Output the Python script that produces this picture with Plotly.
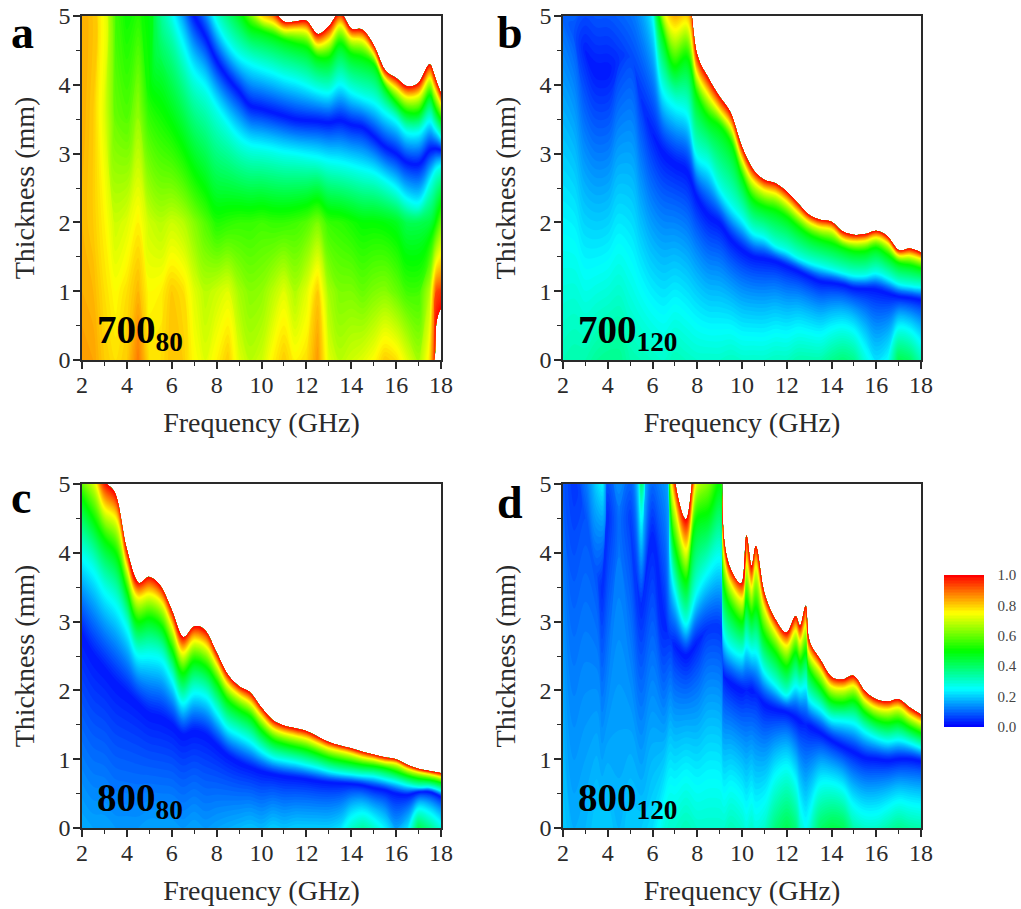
import plotly.graph_objects as go

W, H = 1021, 909
SERIF = "Liberation Serif"
INK = "#2a2a2a"
RAINBOW = [[0, "#0000ff"], [0.25, "#00ffff"], [0.5, "#00ff00"], [0.75, "#ffff00"], [1, "#ff0000"]]
X_TICKS = [2, 4, 6, 8, 10, 12, 14, 16, 18]
Y_TICKS = [0, 1, 2, 3, 4, 5]
BAR_TICKS = [0.0, 0.2, 0.4, 0.6, 0.8, 1.0]
BAR_LABELS = ["0.0", "0.2", "0.4", "0.6", "0.8", "1.0"]

def px(x):
    return x / W

def py(y):
    return 1 - y / H

# Each table row is an iso-line: thickness (mm) per frequency column.
F_STD = [2, 2.5, 3, 3.5, 4, 4.5, 5, 5.5, 6, 6.5, 7, 7.5, 8, 8.5, 9, 9.5, 10, 10.5, 11, 11.5, 12, 12.5, 13, 13.5, 14, 14.5, 15, 15.5, 16, 16.5, 17, 17.5, 18]

# panel a (700_80)
a_f = F_STD[:-1] + [17.7, 17.8, 18]
a_t0 = [0]*32 + [0, .55, .75]
a_z0 = [.85,.84,.8,.78,.8,.88,.78,.78,.81,.8,.75,.72,.76,.8,.72,.68,.7,.76,.8,.76,.78,.85,.72,.68,.7,.72,.75,.8,.78,.72,.66,.78,.95,1,1]
a_z1 = [.83,.82,.78,.75,.78,.82,.75,.76,.8,.78,.72,.68,.7,.72,.66,.63,.64,.68,.72,.67,.72,.8,.66,.62,.62,.6,.62,.63,.6,.56,.56,.68,.85,.93,.95]
a_z2 = [.82,.8,.76,.7,.72,.76,.7,.68,.7,.68,.63,.58,.53,.54,.55,.55,.56,.55,.55,.56,.58,.62,.55,.54,.52,.5,.5,.49,.47,.42,.42,.44,.48,.52,.6]
a_low_t = [3.5,3.5,3.5,3.5,3.5,3.5,3.8,4.6,5.0,4.5,4.1,3.9,3.62,3.38,3.18,3.08,3.05,3.02,2.98,2.96,2.93,2.9,2.85,2.82,2.78,2.73,2.68,2.58,2.46,2.3,2.25,2.55,2.7,2.75,2.8]
a_low_z = [.83,.8,.72,.6,.58,.65,.52,.4] + [.27]*27
a_rid_t = [5.2,5.2,5.2,5.2,5.2,5.2,5.3,5.6,5.7,5.35,5.0,4.7,4.35,4.1,3.9,3.7,3.65,3.6,3.55,3.5,3.48,3.47,3.45,3.48,3.42,3.38,3.25,3.1,3.0,2.87,2.85,3.05,3.07,3.07,3.05]
a_rid_z = [.83,.8,.72,.55,.5,.52,.48,.3,.1,.06] + [.02]*25
a_cyan = [6.2]*9 + [6,5.8,5.4,4.95,4.65,4.45,4.35,4.28,4.22,4.15,4.1,4.03,3.95,3.92,4.05,3.93,3.85,3.78,3.63,3.5,3.33,3.33,3.5,3.4,3.35,3.25]
a_green = [7]*9 + [6.7,6.3,6,5.7,5.4,5.1,4.85,4.78,4.72,4.65,4.6,4.55,4.4,4.4,4.6,4.45,4.4,4.3,3.97,3.75,3.6,3.6,3.85,3.7,3.62,3.5]
a_yellow = [7.6]*9 + [7.2,6.9,6.6,6.3,6,5.6,5.2,4.97,4.9,4.8,4.8,4.78,4.58,4.65,4.87,4.68,4.65,4.45,4.1,3.95,3.82,3.85,4.1,3.95,3.87,3.72]
a_edge = [8]*9 + [7.7,7.3,7,6.7,6.4,6,5.6,5.3,5.1,4.92,4.92,4.93,4.74,4.85,5.05,4.82,4.8,4.58,4.22,4.1,3.98,4.03,4.3,4.15,4.05,3.88]

# panel b (700_120)
b_f = F_STD
b_z0 = [.32,.33,.33,.35,.36,.36,.33,.32,.31,.3,.32,.31,.3,.3,.3,.31,.3,.3,.3,.31,.31,.33,.33,.33,.36,.38,.36,.28,.22,.25,.42,.4,.32]
b_rid_t = [5,4.8,4.5,4.2,4.2,4.4,4.4,3.8,3.3,3.0,2.85,2.75,2.35,2.1,1.98,1.75,1.6,1.5,1.47,1.43,1.36,1.29,1.21,1.14,1.12,1.09,1.04,1.03,1.02,.97,.92,.9,.87]
b_rid_z = [.1,.08,.03,.02,.02,.05,.07,.05,.03] + [.02]*24
b_cyan = [7,7,7,7,7,7,7,6.2,5.1,3.95,3.74,3.65,3.0,2.86,2.52,2.28,2.08,1.87,1.8,1.67,1.6,1.5,1.43,1.38,1.33,1.28,1.24,1.24,1.28,1.21,1.12,1.09,1.07]
b_green = [7.5]*8 + [5.6,4.7,4.27,4.4,3.83,3.53,3.4,3.16,2.67,2.33,2.23,2.18,2.08,1.94,1.82,1.75,1.7,1.63,1.58,1.58,1.63,1.53,1.41,1.38,1.33]
b_yellow = [8]*8 + [6.2,5.1,4.8,4.9,4.15,3.85,3.62,3.4,2.92,2.6,2.47,2.42,2.3,2.14,2.0,1.93,1.9,1.76,1.72,1.73,1.78,1.7,1.52,1.52,1.47]
b_edge = [9]*8 + [8,6,5.5,5.5,4.44,4.1,3.83,3.59,3.1,2.77,2.62,2.57,2.45,2.28,2.11,2.04,2.01,1.87,1.82,1.83,1.88,1.8,1.6,1.62,1.56]

# panel c (800_80)
c_f = F_STD
c_z0 = [.17,.16,.16,.15,.15,.15,.16,.16,.16,.15,.16,.15,.16,.17,.18,.19,.18,.2,.19,.2,.2,.2,.2,.22,.3,.34,.3,.24,.16,.22,.42,.36,.28]
c_rid_t = [2.8,2.5,2.3,2.1,1.95,1.8,1.65,1.6,1.5,1.35,1.4,1.35,1.2,1.05,.95,.88,.82,.78,.75,.73,.71,.68,.66,.65,.64,.62,.58,.55,.5,.48,.52,.52,.45]
c_rid_z = [.02]*33
c_cyan = [4.0,3.8,3.5,3.3,2.95,2.55,2.55,2.5,2.2,1.85,2.0,1.95,1.72,1.48,1.38,1.28,1.14,1.04,1.0,.97,.93,.89,.84,.81,.79,.77,.76,.72,.68,.63,.6,.6,.55]
c_green = [4.8,4.5,4.2,4.0,3.45,3.0,3.05,2.95,2.6,2.25,2.42,2.35,2.12,1.85,1.72,1.62,1.42,1.28,1.22,1.18,1.14,1.08,1.02,.98,.95,.92,.9,.87,.82,.76,.72,.7,.66]
c_yellow = [5.3,5.1,4.65,4.5,3.8,3.35,3.4,3.3,2.95,2.55,2.72,2.65,2.38,2.08,1.93,1.82,1.62,1.45,1.38,1.34,1.3,1.23,1.16,1.12,1.08,1.03,1.0,.96,.94,.86,.81,.78,.74]
c_edge = [5.7,5.5,5.05,4.85,4.05,3.57,3.65,3.52,3.17,2.78,2.93,2.87,2.55,2.23,2.06,1.97,1.75,1.57,1.49,1.45,1.41,1.33,1.25,1.2,1.16,1.11,1.07,1.03,1.0,.92,.86,.83,.8]

# panel d (800_120)
d_f = [2,2.5,3,3.5,3.75,4,4.5,5,5.5,6,6.5,6.8,7,7.5,8,8.5,9,9.2,9.5,10,10.2,10.43,10.62,11,11.5,12,12.4,12.6,12.85,13,13.5,14,14.5,15,15.5,16,16.5,17,17.5,18]
d_z0 = [.2,.17,.18,.2,.2,.2,.18,.2,.2,.22,.28,.3,.3,.32,.3,.3,.3,.3,.32,.3,.28,.3,.28,.3,.38,.42,.38,.3,.26,.28,.4,.43,.42,.33,.3,.3,.33,.36,.34,.33]
d_rid_t = [5.2,5,4.5,3.7,3.5,4.5,4.5,4.5,3.2,4.2,3.0,2.75,2.65,2.5,2.7,2.9,2.9,2.2,2.1,2.0,2.0,2.0,1.95,1.8,1.72,1.68,1.6,1.55,1.5,1.48,1.38,1.27,1.18,1.1,1.02,1.0,.98,1.0,1.0,.97]
d_rid_z = [.09,.05,.08,.08,.04,.04,.11,.06,.04,.03,.03,.05,.03,.02,.03,.05,.05,.03,.02,.02,.03,.02,.03,.02,.02,.02,.02,.02,.03,.02,.02,.02,.02,.02,.02,.02,.02,.02,.02,.02]
d_cyan = [7,7,7,5.5,5.2,7,7,7,4.6,6.5,7,4.0,3.5,3.0,3.5,3.8,4.0,2.85,2.65,2.55,2.7,2.6,2.6,2.3,2.1,1.95,2.1,2.05,2.1,1.9,1.75,1.6,1.58,1.55,1.42,1.33,1.28,1.3,1.25,1.18]
d_green = [8,8,8,6,6,8,8,8,5.4,7,7.5,4.7,4.1,3.6,4.5,4.6,5.0,3.5,3.2,3.0,3.3,3.1,3.2,2.8,2.55,2.35,2.55,2.42,2.55,2.3,2.05,1.85,1.82,1.85,1.68,1.57,1.53,1.55,1.46,1.38]
d_yellow = [8.5,8.5,8.5,7,7,8.5,8.5,8.5,6,7.5,8,5.2,4.7,4.05,5.1,5.4,6,3.95,3.55,3.33,3.85,3.5,3.8,3.2,2.85,2.65,2.87,2.72,2.95,2.55,2.3,2.06,2.03,2.07,1.86,1.75,1.72,1.75,1.63,1.54]
d_edge = [9,9,9,8,8,9,9,9,7,8,8.5,6,5.05,4.49,5.6,6,7,4.2,3.76,3.57,4.25,3.81,4.1,3.42,3.03,2.84,3.08,2.94,3.23,2.74,2.45,2.2,2.16,2.21,1.99,1.87,1.84,1.87,1.75,1.65]

Z_CYAN, Z_GREEN, Z_YELLOW, Z_RED = 0.27, 0.5, 0.75, 1.0

def const(v, f):
    return [v]*len(f)

PANELS = [
    dict(letter="a", label="700", sub="80", f=a_f, box=(82, 441, 16, 360), lx=9, ly=32, ix=95, iy=332,
         t=[a_t0, const(1, a_f), const(2, a_f), a_low_t, a_rid_t, a_cyan, a_green, a_yellow, a_edge],
         z=[a_z0, a_z1, a_z2, a_low_z, a_rid_z, const(Z_CYAN, a_f), const(Z_GREEN, a_f), const(Z_YELLOW, a_f), const(Z_RED, a_f)]),
    dict(letter="b", label="700", sub="120", f=b_f, box=(563, 921, 16, 360), lx=495, ly=32, ix=576, iy=332,
         t=[const(0, b_f), b_rid_t, b_cyan, b_green, b_yellow, b_edge],
         z=[b_z0, b_rid_z, const(Z_CYAN, b_f), const(Z_GREEN, b_f), const(Z_YELLOW, b_f), const(Z_RED, b_f)]),
    dict(letter="c", label="800", sub="80", f=c_f, box=(82, 441, 484, 828), lx=9, ly=497, ix=95, iy=800,
         t=[const(0, c_f), c_rid_t, c_cyan, c_green, c_yellow, c_edge],
         z=[c_z0, c_rid_z, const(Z_CYAN, c_f), const(Z_GREEN, c_f), const(Z_YELLOW, c_f), const(Z_RED, c_f)]),
    dict(letter="d", label="800", sub="120", f=d_f, box=(563, 921, 484, 828), lx=495, ly=502, ix=576, iy=800,
         t=[const(0, d_f), d_rid_t, d_cyan, d_green, d_yellow, d_edge],
         z=[d_z0, d_rid_z, const(Z_CYAN, d_f), const(Z_GREEN, d_f), const(Z_YELLOW, d_f), const(Z_RED, d_f)]),
]

fig = go.Figure()
annotations = []
layout_axes = {}
hidden = dict(showgrid=False, showline=False, showticklabels="none", startline=False,
              endline=False, minorgridcount=0)

for i, p in enumerate(PANELS, start=1):
    suffix = "" if i == 1 else str(i)
    xa, ya = "x" + suffix, "y" + suffix
    cid = "carpet" + str(i)
    rows = list(range(len(p["t"])))
    fig.add_trace(go.Carpet(carpet=cid, a=p["f"], b=rows, x=[p["f"] for _ in rows], y=p["t"],
                            aaxis=hidden, baxis=hidden, xaxis=xa, yaxis=ya))
    trace = dict(carpet=cid, a=p["f"], b=rows, z=p["z"], autocontour=False, zmin=0, zmax=1,
                 contours=dict(start=0, end=1, size=0.01, coloring="fill", showlines=False),
                 line=dict(width=0), colorscale=RAINBOW, xaxis=xa, yaxis=ya, showscale=False)
    if i == 4:
        trace.update(showscale=True, colorbar=dict(
            x=px(944), xanchor="left", xpad=0, y=py(727), yanchor="bottom", ypad=0,
            lenmode="pixels", len=152, thicknessmode="pixels", thickness=40, outlinewidth=0,
            tickmode="array", tickvals=BAR_TICKS, ticktext=BAR_LABELS, ticks="outside", ticklen=11,
            tickcolor="rgba(0,0,0,0)", tickfont=dict(family=SERIF, size=15, color="#444")))
    fig.add_trace(go.Contourcarpet(**trace))

    x0, x1, y0, y1 = p["box"]
    common = dict(showline=True, linecolor=INK, linewidth=1.5, mirror=True, ticks="outside", ticklen=7,
                  tickwidth=1.5, tickcolor=INK, showgrid=False, zeroline=False, automargin=False,
                  tickfont=dict(family=SERIF, size=24, color=INK))
    layout_axes["xaxis" + suffix] = dict(common, domain=[px(x0), px(x1)], range=[2, 18], anchor=ya,
        tickmode="array", tickvals=X_TICKS, ticklabelstandoff=-5,
        minor=dict(dtick=1, ticks="outside", ticklen=4, tickwidth=1.2, tickcolor=INK),
        title=dict(text="Frequency (GHz)", standoff=16, font=dict(family=SERIF, size=28, color=INK)))
    layout_axes["yaxis" + suffix] = dict(common, domain=[py(y1), py(y0)], range=[0, 5], anchor=xa,
        tickmode="array", tickvals=Y_TICKS, ticklabelstandoff=-2,
        minor=dict(dtick=0.5, ticks="outside", ticklen=4, tickwidth=1.2, tickcolor=INK),
        title=dict(text="Thickness (mm)", standoff=16, font=dict(family=SERIF, size=28, color=INK)))
    annotations.append(dict(text="<b>%s</b>" % p["letter"], x=px(p["lx"]), y=py(p["ly"]), xref="paper", yref="paper",
                            xanchor="left", yanchor="middle", showarrow=False,
                            font=dict(family=SERIF, size=46, color="black")))
    annotations.append(dict(text="<b>%s<sub>%s</sub></b>" % (p["label"], p["sub"]), x=px(p["ix"]), y=py(p["iy"]),
                            xref="paper", yref="paper", xanchor="left", yanchor="middle", showarrow=False,
                            font=dict(family=SERIF, size=39, color="black")))

fig.update_layout(width=W, height=H, margin=dict(l=0, r=0, t=0, b=0), paper_bgcolor="white", plot_bgcolor="white",
                  showlegend=False, annotations=annotations, **layout_axes)
# The page's default 8 px body margin would push the 1021x909 figure off the window.
fig.write_html("out.html", config={"displayModeBar": False}, post_script="document.body.style.margin='0';")
